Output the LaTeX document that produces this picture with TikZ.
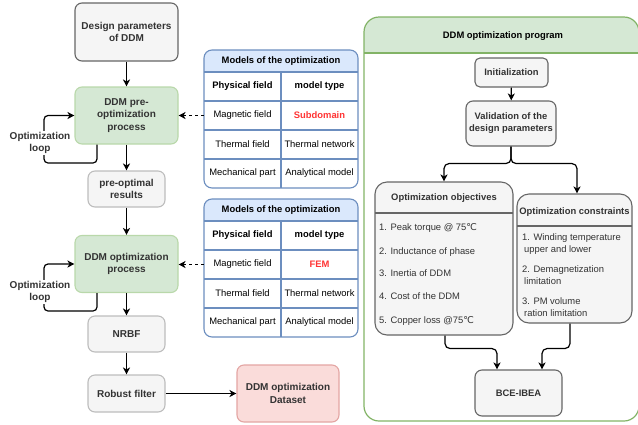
\documentclass[tikz,border=0pt]{standalone}
\usepackage{fontspec}
\setmainfont{Liberation Sans}
\newfontfamily\symf{DejaVu Sans}
\usetikzlibrary{arrows.meta}

\definecolor{grayfill}{HTML}{F5F5F5}
\definecolor{grayline}{HTML}{666666}
\definecolor{lightline}{HTML}{BDBDBD}
\definecolor{greenfill}{HTML}{D5E8D4}
\definecolor{greenline}{HTML}{82B366}
\definecolor{softgreen}{HTML}{B9D8AA}
\definecolor{bluefill}{HTML}{DAE8FC}
\definecolor{blueline}{HTML}{6C8EBF}
\definecolor{redfill}{HTML}{FADCDA}
\definecolor{redline}{HTML}{E3A5A3}
\definecolor{txt}{HTML}{333333}
\definecolor{hot}{HTML}{FF3333}

\begin{document}
\fontsize{9.4}{12}\selectfont
\begin{tikzpicture}[x=1pt, y=-1pt,
    box/.style={draw=grayline, fill=grayfill, rounded corners=7pt, line width=1.1pt,
      text=txt, align=center, font=\bfseries, inner sep=2pt},
    bigfont/.style={font=\fontsize{10}{12.5}\selectfont\bfseries},
    lbox/.style={box, bigfont},
    softbox/.style={lbox, draw=lightline},
    greenbox/.style={lbox, draw=softgreen, fill=greenfill},
    redbox/.style={lbox, draw=redline, fill=redfill},
    cell/.style={minimum width=77pt, minimum height=29pt, inner sep=0pt},
    item/.style={anchor=west, text=txt, align=left, inner sep=0pt},
    looplabel/.style={fill=white, text=txt, bigfont, align=center, inner sep=1pt},
    arr/.style={-{Stealth[length=7pt, width=7pt, inset=2pt]}, line width=1.2pt},
    tline/.style={draw=blueline, line width=1.1pt}]
  \useasboundingbox (0,0) rectangle (638,424);

  % Left column
  \node[lbox, minimum width=103pt, minimum height=58pt] (design) at (126.5,32) {Design parameters\\of DDM};
  \node[greenbox, minimum width=103pt, minimum height=57pt] (preopt) at (126.5,115.5) {DDM pre-\\optimization\\process};
  \node[softbox, minimum width=77pt, minimum height=36pt] (results) at (126.5,189) {pre-optimal\\results};
  \node[greenbox, minimum width=103pt, minimum height=57pt] (optproc) at (126.5,264) {DDM optimization\\process};
  \node[softbox, minimum width=77pt, minimum height=36pt] (nrbf) at (126.5,334) {NRBF};
  \node[softbox, minimum width=77pt, minimum height=37pt] (robust) at (126.5,393.5) {Robust filter};
  \node[redbox, minimum width=102pt, minimum height=57pt] (dataset) at (288,393.5) {DDM optimization\\Dataset};

  \draw[arr] (design) -- (preopt);
  \draw[arr] (preopt) -- (results);
  \draw[arr] (results) -- (optproc);
  \draw[arr] (optproc) -- (nrbf);
  \draw[arr] (nrbf) -- (robust);
  \draw[arr] (robust) -- (dataset);

  % Optimization loops
  \coordinate (lp1) at (44,163);
  \coordinate (lp2) at (44,311);
  \draw[arr, rounded corners=4pt] ([xshift=-29.5pt]preopt.south) |- (lp1) |- (preopt.west);
  \draw[arr, rounded corners=4pt] ([xshift=-29.5pt]optproc.south) |- (lp2) |- (optproc.west);
  \node[looplabel] (lb1) at (40,143) {Optimization\\loop};
  \node[looplabel] (lb2) at (40,292) {Optimization\\loop};

  % Model tables
  \foreach \t/\dy/\mt/\tgt in {1/0/Subdomain/preopt, 2/149/FEM/optproc}{
    \begin{scope}[shift={(0,\dy)}]
      \begin{scope}
        \clip[rounded corners=8pt] (204,50) rectangle (358,188);
        \fill[bluefill] (204,50) rectangle (358,72);
      \end{scope}
      \draw[tline] (204,72) -- (358,72);
      \draw[tline] (204,101) -- (358,101);
      \draw[tline] (204,130) -- (358,130);
      \draw[tline] (204,159) -- (358,159);
      \draw[tline] (281,72) -- (281,188);
      \draw[tline, rounded corners=8pt] (204,50) rectangle (358,188);
      \node[font=\bfseries] (t\t-h) at (281,61) {Models of the optimization};
      \node[cell, font=\bfseries] (t\t-pf) at (242.5,86.5) {Physical field};
      \node[cell, font=\bfseries] (t\t-mt) at (319.5,86.5) {model type};
      \node[cell] (t\t-mf) at (242.5,115.5) {Magnetic field};
      \node[cell, text=hot, font=\bfseries] (t\t-mm) at (319.5,115.5) {\mt};
      \node[cell] (t\t-tf) at (242.5,144.5) {Thermal field};
      \node[cell] (t\t-tn) at (319.5,144.5) {Thermal network};
      \node[cell] (t\t-mp) at (242.5,173.5) {Mechanical part};
      \node[cell] (t\t-am) at (319.5,173.5) {Analytical model};
    \end{scope}
    \draw[arr, dash pattern=on 3pt off 3pt] (t\t-mf.west) -- (t\t-mf.west -| \tgt.east);
  }

  % Right panel
  \begin{scope}
    \clip[rounded corners=15pt] (364,17) rectangle (639,421);
    \fill[greenfill] (364,17) rectangle (639,53);
  \end{scope}
  \draw[draw=greenline, line width=1.2pt, rounded corners=15pt] (364,17) rectangle (639,421);
  \draw[draw=greenline, line width=1.2pt] (364,53) -- (639,53);
  \node[font=\bfseries] (prog) at (503,36) {DDM optimization program};

  \node[box, minimum width=73pt, minimum height=29pt, rounded corners=5pt] (init) at (511.5,72.5) {Initialization};
  \node[box, minimum width=90pt, minimum height=45pt] (valid) at (511,123.5) {Validation of the\\design parameters};
  \node[box, minimum width=138pt, minimum height=153pt, rounded corners=12pt] (obj) at (444,258.5) {};
  \node[box, minimum width=115pt, minimum height=129pt, rounded corners=12pt] (cons) at (574.5,258.5) {};
  \node[box, minimum width=87pt, minimum height=46pt] (bce) at (518.5,393) {BCE-IBEA};

  % Objectives and constraints
  \draw[draw=grayline, line width=1.1pt] (375,213) -- (513,213);
  \draw[draw=grayline, line width=1.1pt] (517,226) -- (632,226);
  \node[font=\bfseries, text=txt] (objh) at (444,198) {Optimization objectives};
  \node[font=\bfseries, text=txt] (consh) at (574.5,212) {Optimization constraints};
  \foreach \y/\txt [count=\i] in {228/{1. Peak torque @ 75{\symf ℃}}, 252/{2. Inductance of phase},
      273/{3. Inertia of DDM}, 296/{4. Cost of the DDM}, 321/{5. Copper loss @75{\symf ℃}}}
    \node[item] (o\i) at (379,\y) {\txt};
  \node[item] (c1) at (522,244) {1. Winding temperature\\\hspace{2pt}upper and lower};
  \node[item] (c2) at (522,275) {2. Demagnetization\\\hspace{2pt}limitation};
  \node[item] (c3) at (522,307) {3. PM volume\\\hspace{2pt}ration limitation};

  \draw[arr] (init) -- (valid);
  \draw[arr, rounded corners=5pt] (valid.south) -- ++(0,17) -| (obj.north);
  \draw[arr, rounded corners=5pt] (valid.south) -- ++(0,17) -| ([xshift=2.5pt]cons.north);
  \draw[arr, rounded corners=5pt] ([xshift=1pt]obj.south) -- ++(0,13) -| ([xshift=-21.5pt]bce.north);
  \draw[arr, rounded corners=5pt] ([xshift=-4.5pt]cons.south) -- ++(0,25) -| ([xshift=23.5pt]bce.north);
\end{tikzpicture}
\end{document}
